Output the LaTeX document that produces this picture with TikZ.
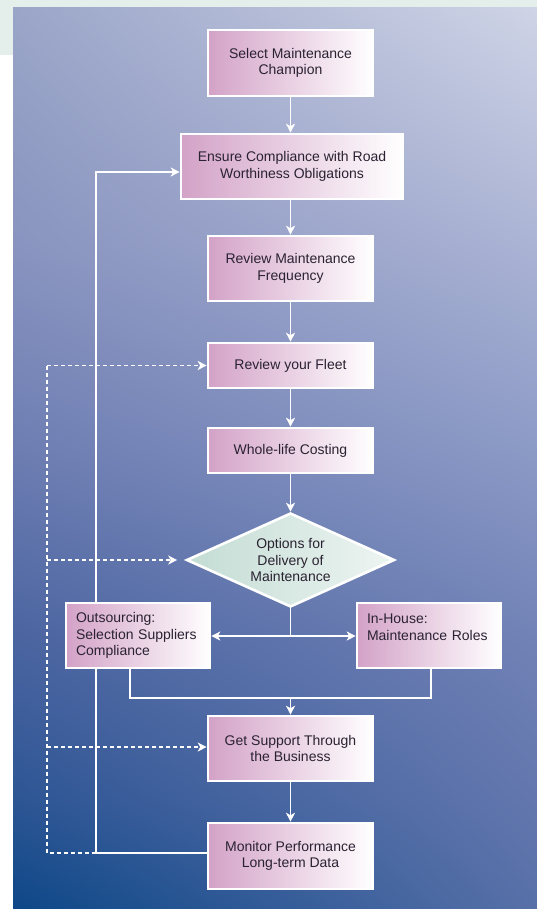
\documentclass[tikz,border=0pt]{standalone}
\usepackage{fontspec}
\setmainfont{Liberation Sans}
\usetikzlibrary{arrows.meta,shapes.geometric,shadings}
\definecolor{mint}{HTML}{E4EFEB}
\definecolor{pinkL}{HTML}{D3A2C7}
\definecolor{txt}{HTML}{2A2232}
\definecolor{dmL}{HTML}{C3DCD3}
\definecolor{dmR}{HTML}{EEF5F2}
\definecolor{bgLa}{HTML}{9AA5C8}\definecolor{bgRa}{HTML}{CFD4E6}
\definecolor{bgLb}{HTML}{8893BF}\definecolor{bgRb}{HTML}{AAB3D4}
\definecolor{bgLc}{HTML}{6D7DB2}\definecolor{bgRc}{HTML}{8C9AC6}
\definecolor{bgLd}{HTML}{4A64A0}\definecolor{bgRd}{HTML}{7182B6}
\definecolor{bgLe}{HTML}{2D5594}\definecolor{bgRe}{HTML}{6377AE}
\definecolor{bgLf}{HTML}{0D4787}\definecolor{bgRf}{HTML}{5870A8}
\pgfdeclarelayer{bgzero}
\pgfdeclarelayer{bgone}
\pgfsetlayers{bgzero,bgone,main}
\begin{document}
\begin{tikzpicture}[x=1pt,y=-1pt,
  lbl/.style={text=txt, font=\fontsize{14}{16.5}\selectfont},
  box/.style={lbl, draw=white, line width=2.6pt, left color=pinkL, right color=white, align=center, inner sep=0pt, minimum width=165pt},
  lbox/.style={box, align=left, text width=124pt, minimum width=144pt},
  conn/.style={draw=white, line width=1.3pt},
  arr/.style={conn, -{Stealth[length=9pt,width=9pt,inset=2.5pt]}},
  darr/.style={arr, dash pattern=on 4pt off 3pt},
  dline/.style={conn, dash pattern=on 4pt off 3pt}]
\useasboundingbox (0,0) rectangle (537,909);
% nodes
\node[box, minimum height=66pt] (champ) at (290.5,63) {Select Maintenance\\Champion};
\node[box, minimum width=222pt, minimum height=65pt] (ensure) at (292,166.5) {Ensure Compliance with Road\\Worthiness Obligations};
\node[box, minimum height=65pt] (freq) at (290.5,268.5) {Review Maintenance\\Frequency};
\node[box, minimum height=45pt] (fleet) at (290.5,365.5) {Review your Fleet};
\node[box, minimum height=45pt] (whole) at (290.5,450.5) {Whole-life Costing};
\node[lbl, diamond, aspect=2.2, draw=white, line width=2.6pt, left color=dmL, right color=dmR, minimum width=208pt, minimum height=94pt, inner sep=0pt, align=center] (opt) at (290.5,560) {Options for\\Delivery of\\Maintenance};
\node[lbox, minimum height=65pt] (outs) at (138,635.5) {Outsourcing:\\Selection Suppliers\\Compliance};
\node[lbox, minimum height=65pt] (inh) at (429,635.5) {In-House:\\Maintenance Roles\\\mbox{}};
\node[box, minimum height=65pt] (supp) at (290.5,748.5) {Get Support Through\\the Business};
\node[box, minimum height=66pt] (mon) at (290.5,856) {Monitor Performance\\Long-term Data};
% coordinates
\coordinate (j1) at (290.5,636);
\coordinate (j2) at (290.5,698);
\coordinate (oj) at (130,698);
\coordinate (ij) at (431,698);
\coordinate (lb) at (96,853);
\coordinate (lt) at (96,172);
\coordinate (dt) at (47,365.5);
\coordinate (dm) at (47,560);
\coordinate (ds) at (47,747);
\coordinate (db) at (47,853);
\begin{pgfonlayer}{bgzero}
\fill[white] (0,0) rectangle (537,909);
\fill[mint] (0,0) rectangle (537,55);
\shade[upper left=bgLa, upper right=bgRa, lower left=bgLb, lower right=bgRb] (13,8) rectangle (537,250.5);
\shade[upper left=bgLb, upper right=bgRb, lower left=bgLc, lower right=bgRc] (13,250) rectangle (537,450.5);
\shade[upper left=bgLc, upper right=bgRc, lower left=bgLd, lower right=bgRd] (13,450) rectangle (537,640.5);
\shade[upper left=bgLd, upper right=bgRd, lower left=bgLe, lower right=bgRe] (13,640) rectangle (537,800.5);
\shade[upper left=bgLe, upper right=bgRe, lower left=bgLf, lower right=bgRf] (13,800) rectangle (537,909);
\end{pgfonlayer}
\begin{pgfonlayer}{bgone}
\draw[arr] (champ.south) -- (champ.south |- ensure.north);
\draw[arr] (freq.north |- ensure.south) -- (freq.north);
\draw[arr] (freq) -- (fleet);
\draw[arr] (fleet) -- (whole);
\draw[arr] (whole) -- (opt);
\draw[conn] (opt.south) -- (j1);
\draw[arr] (j1) -- (outs.east |- j1);
\draw[arr] (j1) -- (inh.west |- j1);
\draw[conn] (outs.south -| oj) -- (oj) -- (ij) -- (ij |- inh.south);
\draw[arr] (j2) -- (supp);
\draw[arr] (supp) -- (mon);
\draw[arr] (mon.west |- lb) -- (lb) -- (lt) -- (lt -| ensure.west);
\draw[dline] (dt) -- (db) -- (lb);
\draw[darr] (dt) -- (fleet.west |- dt);
\draw[darr] (dm) -- ([xshift=-8pt]opt.west);
\draw[darr] (ds) -- (supp.west |- ds);
\end{pgfonlayer}
\end{tikzpicture}
\end{document}
